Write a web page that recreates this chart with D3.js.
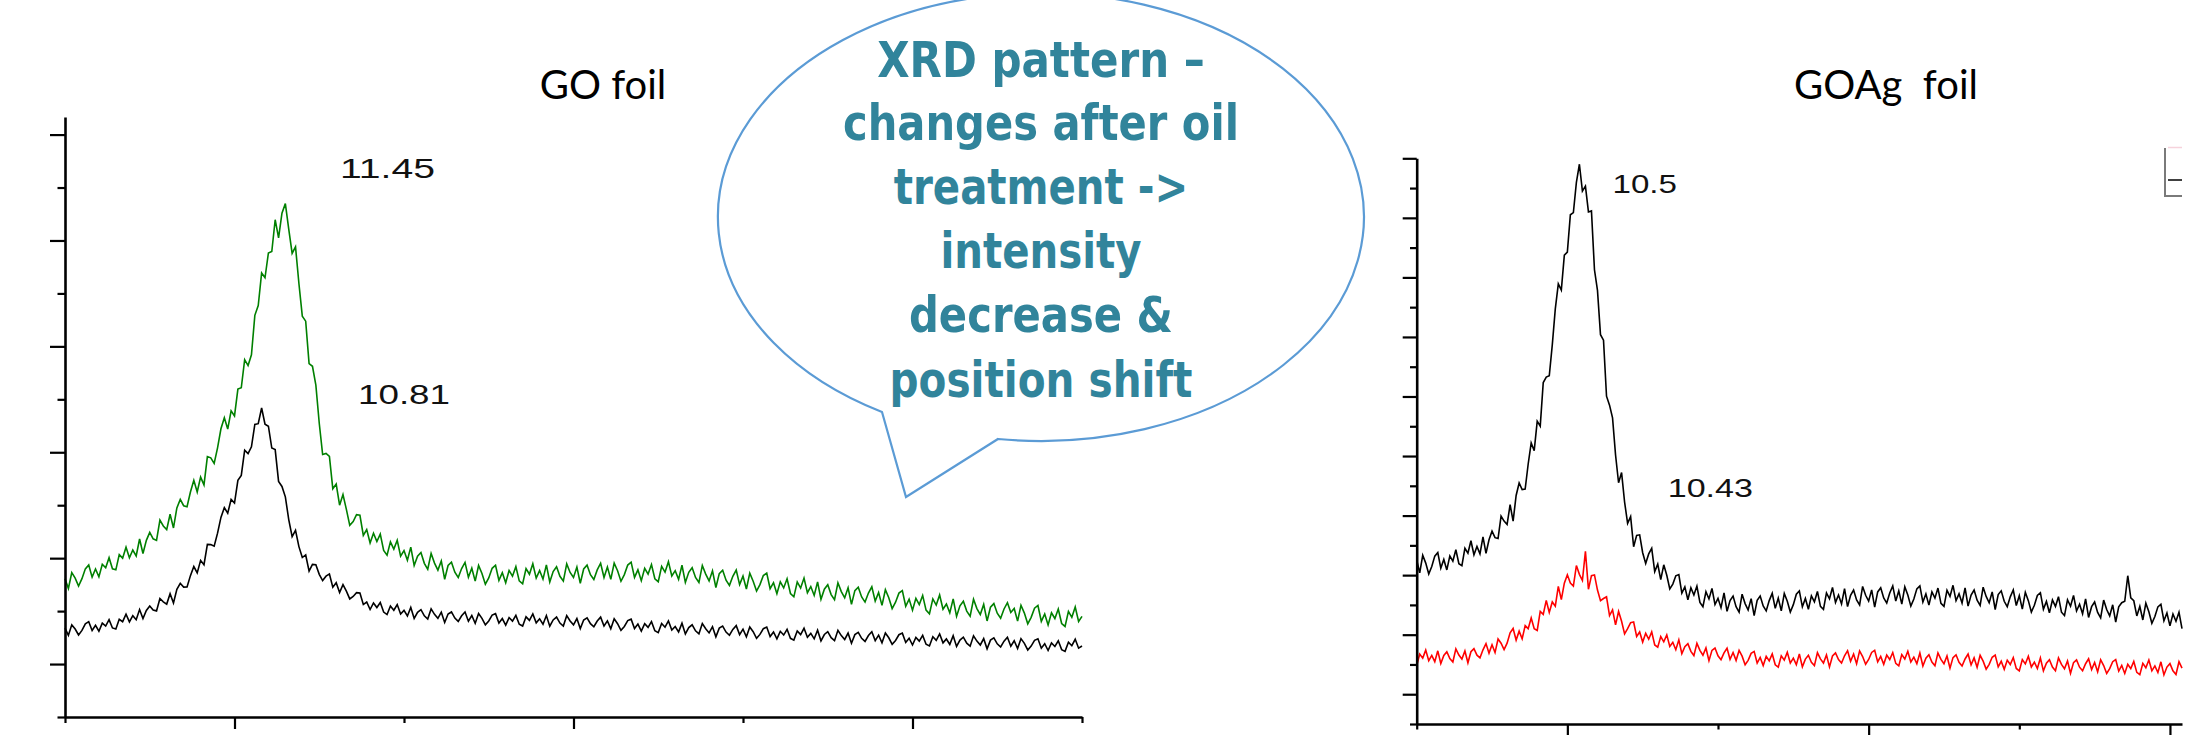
<!DOCTYPE html>
<html><head><meta charset="utf-8">
<script src="https://cdn.jsdelivr.net/npm/d3@7"></script>
<style>
html,body{margin:0;padding:0;background:#fff;overflow:hidden}
svg{display:block}
</style></head><body>
<svg id="chart" width="2196" height="739"></svg>
<script>
// ---------------- DATA ----------------
// 2θ sampling (degrees)
const goStart = 5.0, goStep = 0.1;        // GO foil: 5.0 .. 35.0
const goagStart = 5.0, goagStep = 0.1;    // GOAg foil: 5.0 .. 30.4

// GO foil, before oil treatment (green), intensity (a.u.)
const goBefore = [
 805,714,863,812,737,806,899,936,821,898,
 823,942,909,1004,899,890,1033,1000,1103,1003,
 1077,1021,1181,1044,1168,1243,1183,1168,1360,1304,
 1270,1415,1285,1475,1555,1495,1485,1625,1735,1625,
 1765,1692,1959,1947,1895,2042,2222,2325,2219,2392,
 2343,2597,2609,2874,2819,2920,3293,3385,3693,3648,
 3882,3896,4196,4024,4258,4348,4108,3878,3940,3594,
 3285,3238,2837,2812,2634,2274,1979,1989,1960,1655,
 1700,1500,1600,1460,1310,1345,1410,1405,1215,1270,
 1144,1236,1157,1227,1072,1028,1154,1085,1169,1019,
 1072,981,1104,931,1018,1053,951,895,1045,953,
 887,974,801,931,962,867,817,902,960,820,
 905,783,931,856,754,813,904,933,790,863,
 767,884,830,920,785,758,902,848,947,812,
 883,802,937,775,874,919,829,784,946,865,
 817,916,763,898,934,844,799,889,952,817,
 917,800,953,881,782,845,935,962,818,890,
 787,904,850,940,805,778,922,868,967,832,
 882,800,933,771,866,910,818,771,931,849,
 785,880,723,854,886,792,743,829,888,750,
 830,709,858,782,689,750,836,859,711,768,
 664,777,719,805,666,635,775,717,812,674,
 732,648,776,611,707,749,656,608,767,684,
 625,720,563,694,726,634,585,671,730,594,
 675,554,702,627,524,584,670,693,546,613,
 509,621,562,648,509,475,615,557,652,517,
 567,483,615,451,550,593,500,452,612,524,
 467,563,407,537,571,480,433,520,580,487,
 525,405,555,481,380,441,528,553,403,473,
 369,484,430,519,383,355,497,441,539,402,
 450
];
// GO foil, after oil treatment (black)
const goAfter = [
 340,272,370,331,275,318,379,400,317,366,
 310,387,359,419,341,330,423,400,471,398,
 457,419,515,430,506,549,511,502,619,588,
 566,665,577,706,763,727,728,835,921,861,
 979,938,1130,1128,1113,1236,1385,1477,1424,1555,
 1520,1735,1782,2020,1988,2052,2263,2270,2418,2265,
 2246,2040,2025,1725,1677,1579,1364,1204,1263,1109,
 1006,1030,877,941,938,847,788,830,851,726,
 768,676,750,688,615,638,674,670,562,586,
 515,577,534,581,491,467,548,508,562,473,
 507,454,534,431,489,514,455,425,521,469,
 432,490,393,473,492,434,403,456,491,405,
 458,385,478,432,370,407,462,476,387,430,
 368,439,405,460,376,359,446,413,473,389,
 427,376,458,357,417,444,387,359,457,407,
 370,430,335,416,437,381,352,406,443,359,
 408,334,427,381,319,355,410,424,335,377,
 312,382,347,400,315,297,383,348,407,322,
 355,304,386,284,344,371,314,285,383,333,
 294,353,257,339,359,302,272,327,363,278,
 330,257,350,305,243,280,334,349,260,303,
 238,309,274,328,243,226,313,278,338,253,
 289,238,320,219,279,306,249,221,319,269,
 232,292,197,278,299,243,214,269,305,221,
 273,200,293,248,186,223,277,292,204,244,
 180,251,217,271,187,171,258,224,284,200,
 237,186,268,167,227,254,197,169,267,217,
 180,240,144,226,247,191,161,216,253,168,
 220,147,240,195,133,170,224,239,150,192,
 128,199,166,220,136,120,207,173,234,150,
 170
];
// GOAg foil, before oil treatment (black)
const goagBefore = [
 2255,2039,2333,2202,2020,2144,2319,2380,2118,2264,
 2087,2323,2236,2426,2191,2160,2452,2370,2577,2342,
 2481,2358,2643,2367,2594,2739,2629,2614,2990,2907,
 2850,3183,2907,3338,3547,3436,3445,3866,4221,4090,
 4586,4502,5235,5327,5348,5868,6470,6892,6787,7374,
 7425,8052,8089,8595,8900,8450,8534,8100,8117,7128,
 6782,6037,5945,5005,4854,4640,4018,3552,3722,3227,
 2870,2983,2477,2668,2677,2376,2195,2356,2451,2060,
 2185,1924,2173,1997,1770,1849,1989,2010,1698,1804,
 1587,1788,1666,1816,1541,1470,1722,1600,1777,1507,
 1611,1453,1703,1392,1574,1649,1469,1379,1680,1522,
 1415,1605,1319,1577,1648,1481,1399,1572,1694,1442,
 1615,1399,1693,1562,1380,1504,1679,1735,1468,1609,
 1427,1651,1552,1726,1474,1426,1702,1603,1793,1542,
 1666,1516,1774,1471,1661,1749,1582,1500,1810,1662,
 1565,1752,1463,1718,1786,1616,1531,1701,1820,1565,
 1735,1514,1803,1667,1480,1599,1769,1820,1548,1684,
 1497,1717,1614,1783,1527,1475,1746,1643,1829,1573,
 1686,1532,1786,1479,1665,1749,1578,1492,1797,1642,
 1535,1717,1423,1673,1736,1561,1471,1636,1750,1490,
 1655,1429,1713,1572,1380,1494,1659,1705,1428,1559,
 1367,1582,1474,1638,1377,1320,1586,1478,1659,1398,
 1511,1352,1601,1289,1470,1549,1373,1282,1582,1423,
 1315,1502,1213,1468,1536,1560,1990,1620,1570,1315,
 1475,1247,1529,1386,1192,1304,1467,1511,1232,1364,
 1147,1348,1226,1376,1101
];
// GOAg foil, after oil treatment (red)
const goagAfter = [
 480,675,606,741,564,651,546,729,516,651,
 714,598,542,762,658,590,727,528,713,766,
 656,611,746,850,690,830,699,928,857,750,
 857,1031,1104,909,1059,930,1153,1101,1280,1099,
 1072,1391,1340,1575,1373,1550,1479,1811,1589,1864,
 2006,1866,1816,2160,2013,1910,2400,1762,1992,2004,
 1749,1571,1607,1636,1322,1418,1165,1390,1226,1014,
 1100,1202,1212,971,1046,876,1023,924,1046,828,
 790,967,880,997,802,871,748,913,682,799,
 849,719,649,855,737,655,777,563,736,776,
 646,580,694,772,586,700,568,736,640,496,
 569,686,719,524,617,482,635,560,677,494,
 455,646,573,704,523,606,497,676,459,590,
 654,537,480,699,594,525,660,459,642,693,
 581,523,645,731,553,675,511,727,633,503,
 584,702,736,542,636,502,656,582,700,518,
 475,665,592,722,541,623,514,692,475,605,
 662,541,479,694,585,511,642,437,615,662,
 536,474,592,674,492,610,452,654,556,422,
 502,620,657,459,553,419,572,498,616,433,
 392,582,509,639,458,540,431,609,392,522,
 579,457,396,610,501,427,558,352,531,577,
 454,393,512,595,414,533,376,579,482,349,
 429,547,582,388,483,349,504,430,549,367,
 328,518,444,575,393,475,365,544,326,456,
 514,393,332,546,437
];

// axis ticks (no labels in the original)
const xMajorTicks = [10, 20, 30];
const xMinorTicksGO = [5, 15, 25, 35];
const xMinorTicksGOAg = [5, 15, 25];
const yMajorTicksGO = [0, 1000, 2000, 3000, 4000, 5000];
const yMinorTicksGO = [-500, 500, 1500, 2500, 3500, 4500];
const yMajorTicksGOAg = [0,1000,2000,3000,4000,5000,6000,7000,8000,9000];
const yMinorTicksGOAg = [-500,500,1500,2500,3500,4500,5500,6500,7500,8500];

const titles = ["GO foil", "GOAg  foil"];
const peakLabelsGO = ["11.45", "10.81"];
const peakLabelsGOAg = ["10.5", "10.43"];
const bubbleLines = ["XRD pattern \u2013", "changes after oil", "treatment ->", "intensity", "decrease &", "position shift"];

// ---------------- DRAW ----------------
const svg = d3.select("#chart");
svg.append("rect").attr("width",2196).attr("height",739).attr("fill","#fff");

const toPts = (arr, start, step) => arr.map((v,i)=>[+(start + i*step).toFixed(2), v]);

function panel(cfg){
  const x = d3.scaleLinear().domain(cfg.xDomain).range(cfg.xRange);
  const y = d3.scaleLinear().domain(cfg.yDomain).range(cfg.yRange);
  const g = svg.append("g");
  const line = d3.line().x(d=>x(d[0])).y(d=>y(d[1]));
  cfg.series.forEach(s=>{
    g.append("path").datum(s.data).attr("fill","none").attr("stroke",s.color)
      .attr("stroke-width",1.6).attr("stroke-linejoin","miter").attr("d",line);
  });
  const x0 = cfg.xRange[0], yb = cfg.yRange[0];
  const yMaj = g.append("g").attr("transform",`translate(${x0},0)`)
    .call(d3.axisLeft(y).tickValues(cfg.yMajor).tickSize(cfg.yMajorLen).tickSizeOuter(0).tickFormat(""));
  const yMin = g.append("g").attr("transform",`translate(${x0},0)`)
    .call(d3.axisLeft(y).tickValues(cfg.yMinor).tickSize(cfg.yMinorLen).tickSizeOuter(0).tickFormat(""));
  yMin.select(".domain").remove();
  const xMaj = g.append("g").attr("transform",`translate(0,${yb})`)
    .call(d3.axisBottom(x).tickValues(cfg.xMajor).tickSize(cfg.xMajorLen).tickSizeOuter(0).tickFormat(""));
  const xMin = g.append("g").attr("transform",`translate(0,${yb})`)
    .call(d3.axisBottom(x).tickValues(cfg.xMinor).tickSize(cfg.xMinorLen).tickSizeOuter(0).tickFormat(""));
  xMin.select(".domain").remove();
  g.selectAll(".domain").attr("stroke","#000").attr("stroke-width",2.6);
  g.selectAll(".tick line").attr("stroke","#000").attr("stroke-width",2.2);
  return {x,y,g};
}

const left = panel({
  xDomain:[5,35], xRange:[65,1082],
  yDomain:[-500,5166], yRange:[717,117],
  series:[{data:toPts(goBefore,goStart,goStep),color:"#008000"},
          {data:toPts(goAfter,goStart,goStep),color:"#000000"}],
  yMajor:yMajorTicksGO, yMinor:yMinorTicksGO, yMajorLen:15, yMinorLen:7.5,
  xMajor:xMajorTicks, xMinor:xMinorTicksGO, xMajorLen:12, xMinorLen:6
});
const right = panel({
  xDomain:[5,30.4], xRange:[1416.7,2182],
  yDomain:[-500,9000], yRange:[724,158.3],
  series:[{data:toPts(goagBefore,goagStart,goagStep),color:"#000000"},
          {data:toPts(goagAfter,goagStart,goagStep),color:"#ff0000"}],
  yMajor:yMajorTicksGOAg, yMinor:yMinorTicksGOAg, yMajorLen:14, yMinorLen:6.7,
  xMajor:xMajorTicks, xMinor:xMinorTicksGOAg, xMajorLen:11, xMinorLen:5.5
});

// titles
svg.append("text").attr("x",603).attr("y",99).attr("text-anchor","middle")
  .attr("font-family","Lato, 'Open Sans', sans-serif").attr("font-size",40).attr("fill","#000")
  .text(titles[0]);
svg.append("text").attr("x",1886).attr("y",99).attr("text-anchor","middle")
  .attr("font-family","Lato, 'Open Sans', sans-serif").attr("font-size",40).attr("fill","#000")
  .style("white-space","pre").text(titles[1]);

// peak labels
const pl = [
  {t:peakLabelsGO[0], x:340, y:177.5, w:95, fs:28},
  {t:peakLabelsGO[1], x:358, y:404, w:92, fs:27},
  {t:peakLabelsGOAg[0], x:1612.5, y:193, w:64.5, fs:25},
  {t:peakLabelsGOAg[1], x:1667.7, y:497, w:85.3, fs:25}
];
pl.forEach(p=>{
  svg.append("text").attr("x",p.x).attr("y",p.y)
    .attr("font-family","'Liberation Sans', Arial, sans-serif").attr("font-size",p.fs)
    .attr("fill","#111").attr("textLength",p.w).attr("lengthAdjust","spacingAndGlyphs").text(p.t);
});

// legend fragment at top-right (cropped in the original)
const lg = svg.append("g");
lg.append("line").attr("x1",2168).attr("x2",2182).attr("y1",147.5).attr("y2",147.5).attr("stroke","#f6d3dc").attr("stroke-width",1.5);
lg.append("path").attr("d","M2165,148V196H2182").attr("fill","none").attr("stroke","#7a7a7a").attr("stroke-width",2);
lg.append("line").attr("x1",2168).attr("x2",2182).attr("y1",180).attr("y2",180).attr("stroke","#000").attr("stroke-width",1.5);

// speech bubble
svg.append("path")
  .attr("d","M998,439 A323,224 0 1 0 882,412 L906,497 Z")
  .attr("fill","#fff").attr("stroke","#5b9bd5").attr("stroke-width",2.2);
const bl = [
  {y:76.7, w:327.6},{y:140, w:396},{y:204, w:294.5},
  {y:268, w:201},{y:331.7, w:264},{y:396.7, w:303}
];
bubbleLines.forEach((t,i)=>{
  svg.append("text").attr("x",1041).attr("y",bl[i].y).attr("text-anchor","middle")
    .attr("font-family","'Liberation Sans Narrow', 'DejaVu Sans Condensed', 'Roboto', sans-serif")
    .attr("font-weight","bold").attr("font-size",50).attr("fill","#31849b")
    .attr("textLength",bl[i].w).attr("lengthAdjust","spacingAndGlyphs").text(t);
});
</script>
</body></html>
